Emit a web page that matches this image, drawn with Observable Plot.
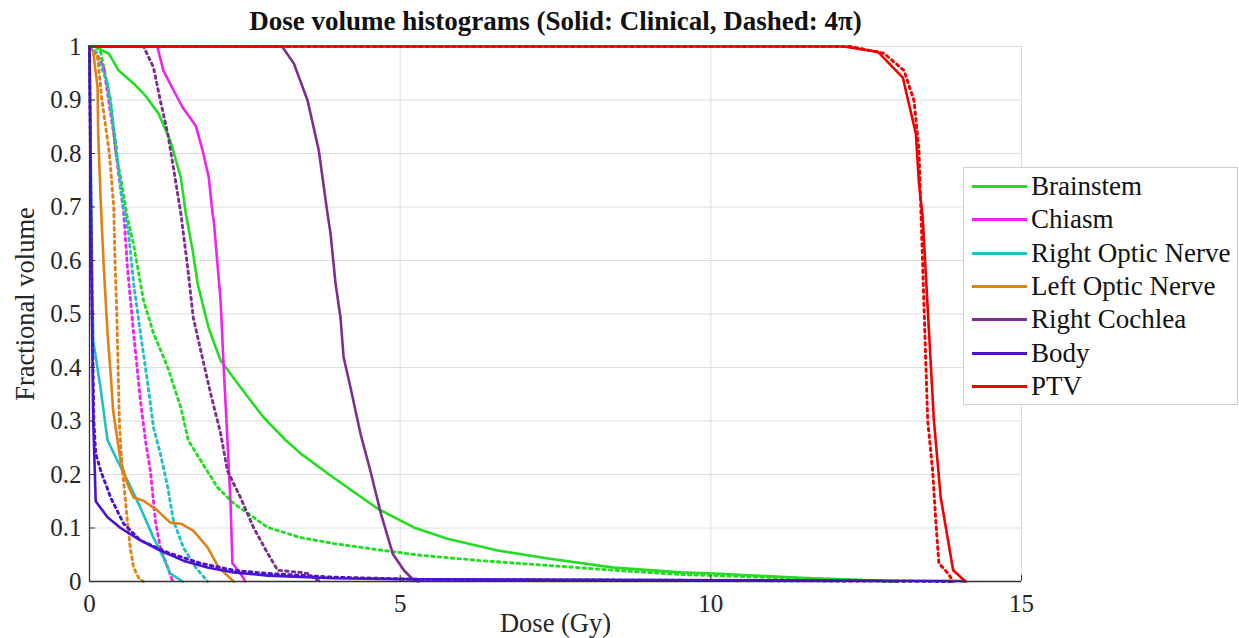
<!DOCTYPE html>
<html><head><meta charset="utf-8">
<script src="https://cdn.jsdelivr.net/npm/d3@7"></script>
<script src="https://cdn.jsdelivr.net/npm/@observablehq/plot@0.6"></script>
<style>
body{margin:0;background:#fff;}
#wrap{position:relative;width:1239px;height:638px;overflow:hidden;}
#legend{position:absolute;left:963px;top:167px;width:275px;height:238px;box-sizing:border-box;border:1px solid #cfcfcf;background:#fff;font-family:"Liberation Serif";font-size:27px;color:#111;padding-top:2px;}
.row{display:flex;align-items:center;height:33.3px;white-space:nowrap;}
.sw{width:55px;height:3px;margin-left:8px;margin-right:4px;flex:none;}
</style></head>
<body><div id="wrap"><div id="chart"></div><div id="legend"></div></div>
<script>
const title = "Dose volume histograms (Solid: Clinical, Dashed: 4\u03C0)";
const xLabel = "Dose (Gy)";
const yLabel = "Fractional volume";
const xTicks = [0, 5, 10, 15];
const yTicks = [0, 0.1, 0.2, 0.3, 0.4, 0.5, 0.6, 0.7, 0.8, 0.9, 1];
const structures = ["Brainstem", "Chiasm", "Right Optic Nerve", "Left Optic Nerve", "Right Cochlea", "Body", "PTV"];
const colors = ["#22dd22", "#f022f0", "#22c0c0", "#e08018", "#7e2f8e", "#4a12d2", "#f20000"];

// [dose (Gy), fractional volume]
const brainstemClinical = [[0,1],[0.13,1],[0.18,0.994],[0.31,0.987],[0.47,0.955],[0.71,0.931],[0.9,0.908],[1.11,0.875],[1.3,0.824],[1.47,0.755],[1.55,0.688],[1.66,0.619],[1.74,0.557],[1.92,0.473],[2.11,0.413],[2.43,0.363],[2.8,0.307],[3.16,0.264],[3.4,0.239],[3.93,0.194],[4.64,0.136],[5.22,0.101],[5.76,0.08],[6.57,0.058],[7.38,0.043],[8.44,0.026],[9.52,0.017],[10.05,0.015],[11.45,0.007],[12.6,0.002],[13,0]];
const brainstem4pi = [[0,1],[0.1,1],[0.18,0.989],[0.34,0.899],[0.42,0.806],[0.53,0.736],[0.61,0.68],[0.71,0.63],[0.87,0.525],[1.03,0.464],[1.26,0.4],[1.47,0.325],[1.59,0.264],[1.79,0.226],[2.06,0.176],[2.32,0.146],[2.87,0.101],[3.4,0.082],[3.93,0.071],[4.73,0.058],[5.33,0.049],[6.3,0.039],[7.38,0.03],[8.44,0.021],[9.52,0.013],[11.13,0.007],[12.6,0.002],[13,0]];
const chiasmClinical = [[0,1],[1.09,1],[1.19,0.955],[1.34,0.921],[1.5,0.886],[1.71,0.852],[1.82,0.806],[1.92,0.755],[1.98,0.688],[2.0,0.675],[2.11,0.525],[2.16,0.4],[2.22,0.264],[2.27,0.146],[2.3,0.034],[2.43,0.015],[2.51,0]];
const chiasm4pi = [[0,1],[0.1,0.99],[0.23,0.96],[0.39,0.837],[0.47,0.76],[0.55,0.69],[0.61,0.587],[0.71,0.464],[0.82,0.338],[0.9,0.264],[0.98,0.207],[1.06,0.114],[1.14,0.064],[1.26,0.026],[1.34,0]];
const rightOpticNerveClinical = [[0,1],[0.02,0.8],[0.04,0.6],[0.06,0.45],[0.18,0.36],[0.26,0.29],[0.29,0.264],[0.45,0.226],[0.61,0.189],[0.82,0.138],[1.03,0.082],[1.19,0.045],[1.3,0.015],[1.5,0]];
const rightOpticNerve4pi = [[0,1],[0.1,0.99],[0.29,0.931],[0.42,0.824],[0.5,0.736],[0.53,0.712],[0.63,0.65],[0.71,0.557],[0.82,0.464],[0.93,0.376],[1.03,0.288],[1.14,0.239],[1.26,0.176],[1.35,0.114],[1.51,0.064],[1.71,0.026],[1.9,0]];
const leftOpticNerveClinical = [[0,1],[0.06,0.99],[0.13,0.923],[0.14,0.837],[0.18,0.712],[0.23,0.587],[0.29,0.464],[0.34,0.389],[0.38,0.32],[0.43,0.28],[0.5,0.226],[0.61,0.183],[0.71,0.157],[0.87,0.151],[1.09,0.133],[1.3,0.11],[1.47,0.108],[1.67,0.095],[1.9,0.064],[2.08,0.026],[2.22,0.011],[2.32,0]];
const leftOpticNerve4pi = [[0,1],[0.13,0.98],[0.2,0.9],[0.32,0.8],[0.39,0.7],[0.41,0.6],[0.44,0.5],[0.46,0.4],[0.48,0.3],[0.52,0.22],[0.58,0.15],[0.62,0.1],[0.66,0.06],[0.71,0.026],[0.8,0.005],[0.87,0]];
const rightCochleaClinical = [[0,1],[3.1,1],[3.29,0.968],[3.51,0.899],[3.69,0.806],[3.83,0.688],[3.88,0.65],[3.96,0.557],[4.04,0.493],[4.09,0.419],[4.2,0.363],[4.36,0.277],[4.52,0.207],[4.69,0.127],[4.88,0.052],[5.06,0.021],[5.22,0.002],[5.3,0]];
const rightCochlea4pi = [[0,1],[0.87,1],[1.03,0.961],[1.14,0.899],[1.26,0.837],[1.35,0.774],[1.47,0.688],[1.58,0.587],[1.67,0.493],[1.79,0.432],[1.95,0.351],[2.11,0.277],[2.22,0.207],[2.43,0.157],[2.64,0.101],[2.87,0.052],[3.03,0.021],[3.4,0.017],[3.51,0.015],[3.67,0.002],[3.75,0]];
const bodyClinical = [[0,1],[0.03,0.6],[0.06,0.3],[0.1,0.15],[0.29,0.12],[0.5,0.1],[0.82,0.077],[1.14,0.058],[1.51,0.039],[1.9,0.026],[2.32,0.017],[2.87,0.011],[3.93,0.006],[5.33,0.004],[8,0.003],[12,0.002],[14.0,0.001],[14.1,0]];
const body4pi = [[0,1],[0.03,0.6],[0.07,0.3],[0.1,0.24],[0.18,0.207],[0.34,0.157],[0.55,0.108],[0.82,0.077],[1.26,0.054],[1.79,0.034],[2.32,0.021],[2.87,0.015],[3.93,0.008],[5.33,0.004],[10,0.002],[13.9,0]];
const ptvClinical = [[0,1],[12.14,1],[12.69,0.99],[13.09,0.942],[13.3,0.837],[13.35,0.744],[13.41,0.68],[13.59,0.301],[13.7,0.157],[13.9,0.021],[14.1,0]];
const ptv4pi = [[0,1],[12.25,1],[12.79,0.987],[13.11,0.955],[13.27,0.899],[13.35,0.806],[13.49,0.301],[13.57,0.207],[13.62,0.114],[13.67,0.034],[13.82,0.015],[13.9,0]];

const clinical = [brainstemClinical, chiasmClinical, rightOpticNerveClinical, leftOpticNerveClinical, rightCochleaClinical, bodyClinical, ptvClinical];
const fourPi = [brainstem4pi, chiasm4pi, rightOpticNerve4pi, leftOpticNerve4pi, rightCochlea4pi, body4pi, ptv4pi];

const toRows = (pts, name) => pts.map(([dose, volume]) => ({structure: name, dose, volume}));

const lineMarks = [];
structures.forEach((name, i) => {
  lineMarks.push(Plot.line(toRows(clinical[i], name), {x: "dose", y: "volume", stroke: "structure", strokeWidth: 2.6, strokeLinejoin: "round"}));
  lineMarks.push(Plot.line(toRows(fourPi[i], name), {x: "dose", y: "volume", stroke: "structure", strokeWidth: 2.9, strokeDasharray: "2.6,4"}));
});

const W = 1239, H = 638;
const mL = 89, mR = 218, mT = 46, mB = 57;
const axisColor = "#333";
const serif = "Liberation Serif";
const yFmt = d => (d === 0 || d === 1) ? String(d) : d.toFixed(1);

const chart = Plot.plot({
  width: W, height: H,
  marginLeft: mL, marginRight: mR, marginTop: mT, marginBottom: mB,
  style: {fontFamily: serif, background: "#fff", overflow: "visible"},
  x: {domain: [0, 15], axis: null},
  y: {domain: [0, 1], axis: null},
  color: {domain: structures, range: colors},
  marks: [
    Plot.gridX(xTicks, {stroke: "#dcdcdc", strokeOpacity: 1}),
    Plot.gridY(yTicks, {stroke: "#dcdcdc", strokeOpacity: 1}),
    ...lineMarks,
    Plot.ruleX([0], {stroke: axisColor, strokeWidth: 1.3}),
    Plot.ruleY([0], {stroke: axisColor, strokeWidth: 1.3}),
    Plot.tickX(xTicks, {x: d => d, stroke: axisColor, insetTop: H - mT - mB - 6}),
    Plot.tickY(yTicks, {y: d => d, stroke: axisColor, insetRight: W - mL - mR - 6}),
    Plot.text(xTicks, {x: d => d, text: d => String(d), frameAnchor: "bottom", textAnchor: "middle", lineAnchor: "top", dy: 13, fontSize: 25, fontFamily: serif, fill: "#262626"}),
    Plot.text(yTicks, {y: d => d, text: yFmt, frameAnchor: "left", textAnchor: "end", dx: -8, fontSize: 25, fontFamily: serif, fill: "#262626"}),
    Plot.text([title], {frameAnchor: "top", textAnchor: "middle", dy: -17, lineAnchor: "bottom", fontWeight: "bold", fontSize: 27, fontFamily: serif, fill: "#111"}),
    Plot.text([xLabel], {frameAnchor: "bottom", textAnchor: "middle", dy: 50, lineAnchor: "bottom", fontSize: 26.5, fontFamily: serif, fill: "#262626"}),
    Plot.text([yLabel], {frameAnchor: "left", textAnchor: "middle", dx: -64, dy: -10, rotate: -90, fontSize: 26.5, fontFamily: serif, fill: "#262626"})
  ]
});
document.getElementById("chart").appendChild(chart);

const legend = document.getElementById("legend");
structures.forEach((name, i) => {
  const row = document.createElement("div");
  row.className = "row";
  const sw = document.createElement("div");
  sw.className = "sw";
  sw.style.background = colors[i];
  const label = document.createElement("span");
  label.textContent = name;
  row.appendChild(sw);
  row.appendChild(label);
  legend.appendChild(row);
});
</script>
</body></html>
